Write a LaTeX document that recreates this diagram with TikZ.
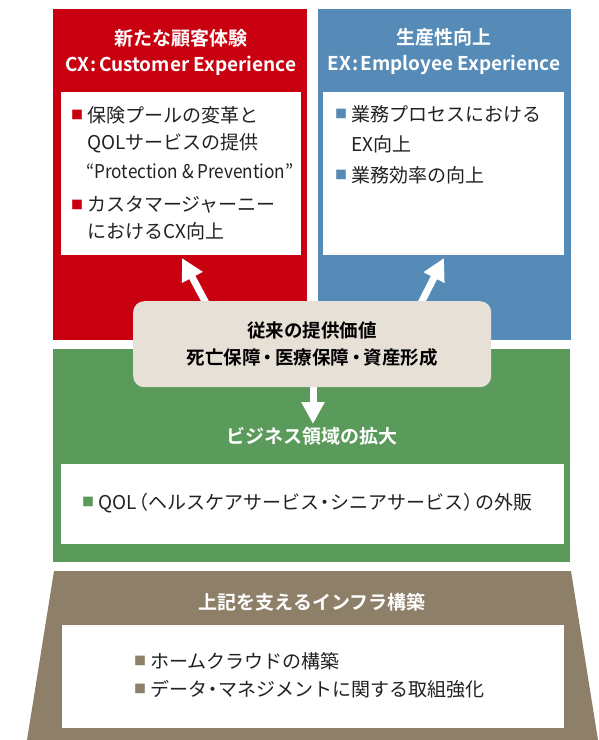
\documentclass[tikz,border=0pt]{standalone}
\usepackage{fontspec}
\setmainfont{Noto Sans CJK JP}[BoldFont={Noto Sans CJK JP Bold}]
\usetikzlibrary{arrows.meta}
\definecolor{cxred}{HTML}{C9000F}
\definecolor{exblue}{HTML}{568BB8}
\definecolor{bizgreen}{HTML}{5A9A5A}
\definecolor{infratan}{HTML}{8E7F69}
\definecolor{corebg}{HTML}{E6E0D7}
\definecolor{textdark}{HTML}{222222}
\newcommand{\sqbul}[1]{\raisebox{2.4pt}{\textcolor{#1}{\fontsize{12}{12}\selectfont ■}}\hspace{4pt}}
\newcommand{\nkg}{\kern-4pt・\kern-4pt}
\newcommand{\nkgc}{\kern-2pt・\kern-2pt}
\begin{document}
\begin{tikzpicture}[x=1pt,y=-1pt,
  panel/.style={anchor=north west, inner sep=0pt, outer sep=0pt, draw=none},
  whitebox/.style={panel, fill=white},
  titletext/.style={inner sep=0pt, align=center, text=white, font=\bfseries\fontsize{19}{26}\selectfont},
  bodyline/.style={anchor=west, inner sep=0pt, text=textdark, font=\fontsize{19}{19}\selectfont},
  bigarrow/.style={draw=white, line width=7pt, -{Triangle[width=22pt,length=22pt]}}
]
\path[use as bounding box] (0,0) rectangle (598,740);

% CX panel
\node[panel, fill=cxred, minimum width=254pt, minimum height=331pt] (cx) at (53,9) {};
\node[titletext] (cxtitle) at (181,52) {新たな顧客体験\\CX\kern1pt:\kern2pt Customer Experience};
\node[whitebox, minimum width=240pt, minimum height=163pt] (cxin) at (61,92) {};
\node[bodyline] (cx1a) at (71,115) {\sqbul{cxred}保険プールの変革と};
\node[bodyline] (cx1b) at (87,143) {QOLサービスの提供};
\node[bodyline] (cx1c) at (86,171) {\resizebox{207pt}{\height}{“Protection \& Prevention”}};
\node[bodyline] (cx2a) at (71,205) {\sqbul{cxred}カスタマージャーニー};
\node[bodyline] (cx2b) at (87,231) {におけるCX向上};

% EX panel
\node[panel, fill=exblue, minimum width=253pt, minimum height=331pt] (ex) at (318,9) {};
\node[titletext] (extitle) at (444,52) {生産性向上\\EX\kern1pt:\kern2pt Employee Experience};
\node[whitebox, minimum width=241pt, minimum height=163pt] (exin) at (323,92) {};
\node[bodyline] (ex1a) at (335,114) {\sqbul{exblue}業務プロセスにおける};
\node[bodyline] (ex1b) at (351,144) {EX向上};
\node[bodyline] (ex2a) at (335,175) {\sqbul{exblue}業務効率の向上};

% Business panel
\node[panel, fill=bizgreen, minimum width=517pt, minimum height=213pt] (biz) at (53,349) {};
\node[titletext] (biztitle) at (312,436) {ビジネス領域の拡大};
\node[whitebox, minimum width=503pt, minimum height=80pt] (bizin) at (61,464) {};
\node[bodyline] (biz1) at (82,503) {\sqbul{bizgreen}QOL\kern-7pt（ヘルスケアサービス\nkg シニアサービス）\kern-7pt の外販};

% Infrastructure trapezoid
\fill[infratan] (54,571) -- (571,571) -- (598,740) -- (27,740) -- cycle;
\coordinate (infra) at (312,655);
\node[titletext] (infratitle) at (312,602) {上記を支えるインフラ構築};
\node[whitebox, minimum width=502pt, minimum height=103pt] (infrain) at (62,625) {};
\node[bodyline] (inf1) at (134,661) {\sqbul{infratan}ホームクラウドの構築};
\node[bodyline] (inf2) at (134,689) {\sqbul{infratan}データ\nkg マネジメントに関する取組強化};

% arrows from core value box
\coordinate (cxtip) at (182,258);
\coordinate (extip) at (444,258);
\coordinate (biztip) at (313,424);
\coordinate (corel) at (207,305);
\coordinate (corer) at (420,305);
\draw[bigarrow] (corel) -- (cxtip);
\draw[bigarrow] (corer) -- (extip);
\draw[bigarrow] (313,380) -- (biztip);

% core value box
\node[anchor=north west, inner sep=0pt, fill=corebg, rounded corners=11pt, minimum width=358pt, minimum height=86pt] (core) at (133,301) {};
\node[inner sep=0pt, align=center, text=black, font=\bfseries\fontsize{18.5}{27}\selectfont] (coretext) at (312,344) {従来の提供価値\\死亡保障\nkgc 医療保障\nkgc 資産形成};
\end{tikzpicture}
\end{document}
